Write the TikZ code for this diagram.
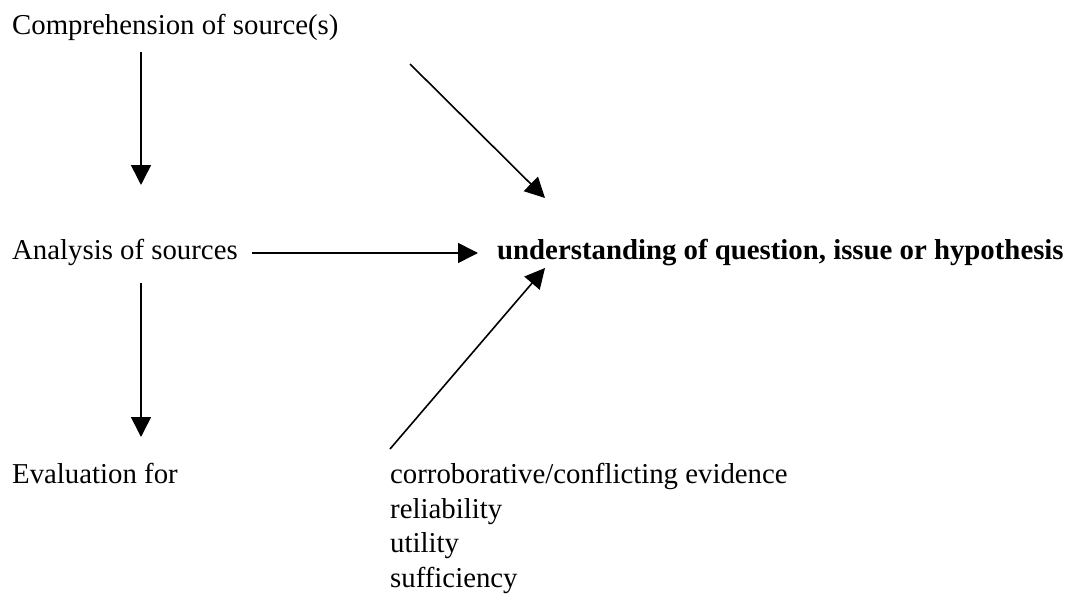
\documentclass[tikz,border=0pt]{standalone}
\usepackage{fontspec}
\setmainfont{Liberation Serif}
\usetikzlibrary{arrows.meta}
\begin{document}
\begin{tikzpicture}[x=1pt,y=-1pt,
  lbl/.style={anchor=base west,inner sep=0pt,font=\fontsize{28.8}{34.7}\selectfont},
  conn/.style={line width=1.6pt,-{Triangle[length=20pt,width=20pt]}}]
\useasboundingbox (0,0) rectangle (1076,599);
\node[lbl] (comp) at (12,35) {Comprehension of source(s)};
\node[lbl] (anal) at (12,259) {Analysis of sources};
\node[lbl,font=\fontsize{28.8}{34.7}\selectfont\bfseries] (und) at (497,259) {understanding of question, issue or hypothesis};
\node[lbl] (eval) at (12,483) {Evaluation for};
\node[lbl] (crit1) at (390,483) {corroborative/conflicting evidence};
\node[lbl] (crit2) at (390,518) {reliability};
\node[lbl] (crit3) at (390,552) {utility};
\node[lbl] (crit4) at (390,587) {sufficiency};
\coordinate (c1) at (141,52);
\coordinate (t1) at (141,185);
\coordinate (c2) at (141,283);
\coordinate (t2) at (141,437);
\coordinate (c3) at (410,64);
\coordinate (t3) at (545,198);
\coordinate (c4) at (252,253);
\coordinate (t4) at (478,253);
\coordinate (c5) at (390,449);
\coordinate (t5) at (545,268);
\draw[conn] (c1) -- (t1);
\draw[conn] (c2) -- (t2);
\draw[conn] (c3) -- (t3);
\draw[conn] (c4) -- (t4);
\draw[conn] (c5) -- (t5);
\end{tikzpicture}
\end{document}
